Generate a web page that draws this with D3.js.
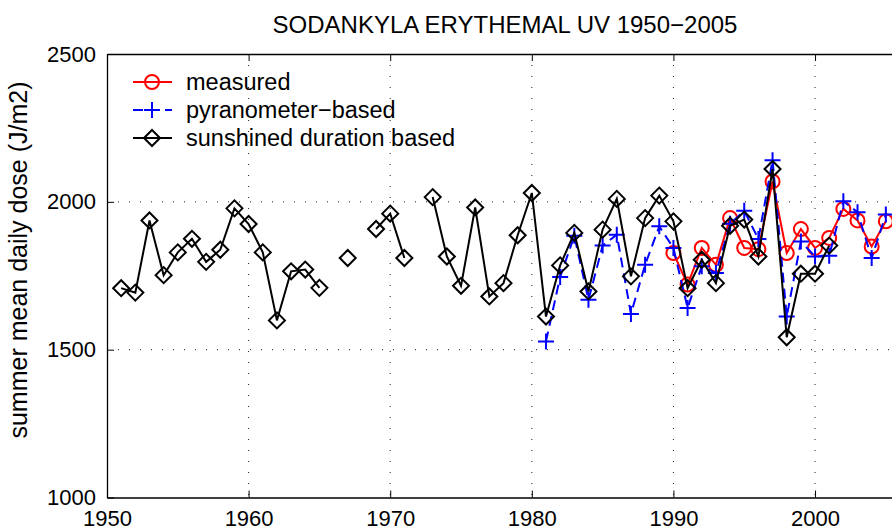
<!DOCTYPE html>
<html>
<head>
<meta charset="utf-8">
<script src="https://cdnjs.cloudflare.com/ajax/libs/d3/7.8.5/d3.min.js"></script>
<style>
  body{margin:0;background:#fff;}
  svg{display:block;font-family:"Liberation Sans",Arial,sans-serif;}
</style>
</head>
<body>
<div id="chart"></div>
<script>
// years and values (null = no data that year)
var sunYears = d3.range(1951, 2002)
var sunshine = [1708,1693,1937,1752,1829,1875,1797,1838,1978,1925,
                1829,1599,1765,1771,1709,null,1810,null,1908,1960,
                1810,null,2016,1815,1716,1981,1680,1725,1887,2030,
                1612,1785,1895,1697,1906,2010,1748,1945,2021,1934,
                1708,1804,1725,1919,1940,1815,2111,1542,1757,1757,
                1852]
var pyrYears = d3.range(1981, 2006)
var pyranometer = [1528,1746,1885,1669,1852,1889,1621,1787,1917,1844,
                   1641,1782,1759,1926,1970,1874,2141,1612,1866,1815,
                   1818,2002,1965,1810,1957]
var measYears = d3.range(1990, 2006)
var measured = [1827,1720,1844,1787,1945,1844,1840,2069,1827,1908,
                1844,1878,1976,1937,1849,1934]
var xTicks = [1950,1960,1970,1980,1990,2000]
var yTicks = [1000,1500,2000,2500]
var legendNames = ["measured", "pyranometer\u2212based", "sunshined duration based"]

document.addEventListener('DOMContentLoaded', function(){
  const W = 892, H = 531
  const left = 107, top = 54, right = 900, bottom = 497.5

  const xScale = d3.scaleLinear().domain([1950, 2006]).range([left, right])
  const yScale = d3.scaleLinear().domain([1000, 2500]).range([bottom, top])

  const svg = d3.select("#chart").append("svg")
                .attr("width", W)
                .attr("height", H)

  //dotted grid
  svg.append("g")
     .selectAll("line.gx")
     .data(xTicks.slice(1))
     .enter().append("line")
     .attr("x1", d => xScale(d)).attr("x2", d => xScale(d))
     .attr("y1", top).attr("y2", bottom)
     .attr("stroke", "#222").attr("stroke-width", 1)
     .attr("stroke-dasharray", "1,10")
  svg.append("g")
     .selectAll("line.gy")
     .data(yTicks.slice(1, -1))
     .enter().append("line")
     .attr("x1", left).attr("x2", right)
     .attr("y1", d => yScale(d)).attr("y2", d => yScale(d))
     .attr("stroke", "#222").attr("stroke-width", 1)
     .attr("stroke-dasharray", "1,10")

  //axes, matlab style: ticks pointing inwards
  const xAxis = d3.axisBottom(xScale).tickValues(xTicks).tickFormat(d3.format("d"))
                  .tickSizeInner(-7).tickSizeOuter(0).tickPadding(16)
  const xTop = d3.axisTop(xScale).tickValues(xTicks).tickFormat("")
                  .tickSizeInner(-7).tickSizeOuter(0)
  const yAxis = d3.axisLeft(yScale).tickValues(yTicks).tickFormat(d3.format("d"))
                  .tickSizeInner(-7).tickSizeOuter(0).tickPadding(11)

  const gx = svg.append("g").attr("transform", "translate(0," + bottom + ")").call(xAxis)
  const gt = svg.append("g").attr("transform", "translate(0," + top + ")").call(xTop)
  const gy = svg.append("g").attr("transform", "translate(" + left + ",0)").call(yAxis)
  ;[gx, gt, gy].forEach(function(g){
    g.select(".domain").attr("stroke", "#000").attr("stroke-width", 1.3)
    g.selectAll(".tick line").attr("stroke", "#000").attr("stroke-width", 1)
    g.selectAll("text").attr("fill", "#000").style("font-size", "22px")
     .style("font-family", '"Liberation Sans",Arial,sans-serif')
  })
  gx.selectAll("text").attr("dy", "0.55em")

  //title + y label
  svg.append("text")
     .attr("x", 505).attr("y", 33)
     .attr("text-anchor", "middle")
     .style("font-size", "24px")
     .text("SODANKYLA ERYTHEMAL UV 1950\u22122005")
  svg.append("text")
     .attr("transform", "translate(27,260) rotate(-90)")
     .attr("text-anchor", "middle")
     .style("font-size", "25px")
     .text("summer mean daily dose (J/m2)")

  const plot = svg.append("g")
  const line = d3.line()
                 .defined(d => d[1] != null)
                 .x(d => xScale(d[0]))
                 .y(d => yScale(d[1]))

  const measData = measYears.map((y, i) => [y, measured[i]])
  const pyrData = pyrYears.map((y, i) => [y, pyranometer[i]])
  const sunData = sunYears.map((y, i) => [y, sunshine[i]])

  //measured: red, circles
  plot.append("path").datum(measData)
      .attr("d", line).attr("fill", "none")
      .attr("stroke", "#ff0000").attr("stroke-width", 2)
  plot.selectAll("circle.m")
      .data(measData).enter().append("circle")
      .attr("cx", d => xScale(d[0])).attr("cy", d => yScale(d[1]))
      .attr("r", 7).attr("fill", "none")
      .attr("stroke", "#ff0000").attr("stroke-width", 2)

  //pyranometer: blue dashed, plus
  plot.append("path").datum(pyrData)
      .attr("d", line).attr("fill", "none")
      .attr("stroke", "#0000ff").attr("stroke-width", 2)
      .attr("stroke-dasharray", "10,6")
  plot.selectAll("path.p")
      .data(pyrData).enter().append("path")
      .attr("d", d => {
        var x = xScale(d[0]), y = yScale(d[1])
        return "M" + (x - 8) + "," + y + "H" + (x + 8) + "M" + x + "," + (y - 8) + "V" + (y + 8)
      })
      .attr("stroke", "#0000ff").attr("stroke-width", 2)

  //sunshine duration: black, diamonds
  plot.append("path").datum(sunData)
      .attr("d", line).attr("fill", "none")
      .attr("stroke", "#000").attr("stroke-width", 2)
  plot.selectAll("path.s")
      .data(sunData.filter(d => d[1] != null)).enter().append("path")
      .attr("d", d => {
        var x = xScale(d[0]), y = yScale(d[1])
        return "M" + (x - 8) + "," + y + "L" + x + "," + (y - 8) + "L" + (x + 8) + "," + y + "L" + x + "," + (y + 8) + "Z"
      })
      .attr("fill", "none")
      .attr("stroke", "#000").attr("stroke-width", 2)

  //legend
  const colors = ["#ff0000", "#0000ff", "#000"]
  const leg = svg.append("g").selectAll("g")
                 .data(legendNames).enter().append("g")
                 .attr("transform", (d, i) => "translate(0," + (82 + i * 28) + ")")
  leg.append("line")
     .attr("x1", 133).attr("x2", 172).attr("y1", 0).attr("y2", 0)
     .attr("stroke", (d, i) => colors[i]).attr("stroke-width", 2)
     .attr("stroke-dasharray", (d, i) => i == 1 ? "10,6" : null)
  leg.each(function(d, i){
    var g = d3.select(this)
    if (i == 0){
      g.append("circle").attr("cx", 152).attr("cy", 0).attr("r", 7)
       .attr("fill", "none").attr("stroke", colors[i]).attr("stroke-width", 2)
    } else if (i == 1){
      g.append("path").attr("d", "M144,0H160M152,-8V8")
       .attr("stroke", colors[i]).attr("stroke-width", 2)
    } else {
      g.append("path").attr("d", "M144,0L152,-8L160,0L152,8Z")
       .attr("fill", "none").attr("stroke", colors[i]).attr("stroke-width", 2)
    }
  })
  leg.append("text")
     .attr("x", 186).attr("y", 0).attr("dy", "0.36em")
     .style("font-size", "23.5px")
     .text(d => d)
})
</script>
</body>
</html>
